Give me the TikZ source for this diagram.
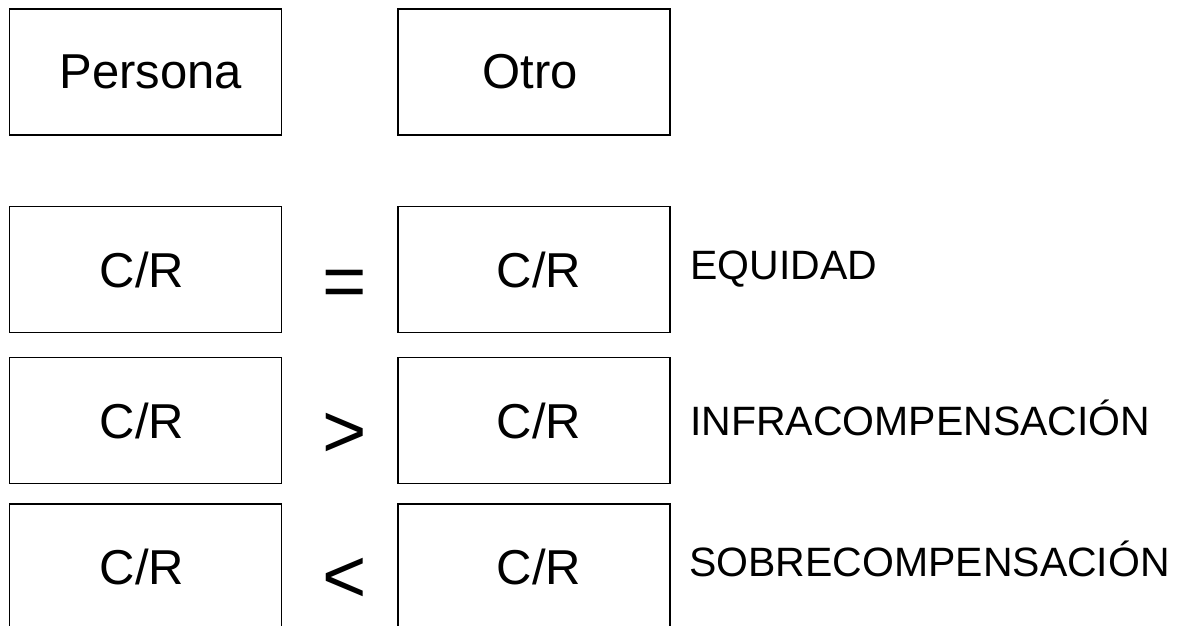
\documentclass[tikz,border=0pt]{standalone}
\usepackage{fontspec}
\setmainfont{Liberation Sans}
\begin{document}
\begin{tikzpicture}[x=1pt,y=-1pt,
  cell/.style={draw=black, line width=1.3pt, minimum width=272pt, minimum height=126pt,
    inner sep=0pt, font=\fontsize{49}{49}\selectfont},
  rel/.style={inner sep=0pt, font=\fontsize{76}{76}\selectfont},
  verdict/.style={anchor=base west, inner sep=0pt, font=\fontsize{41}{41}\selectfont}]
\useasboundingbox (0,0) rectangle (1203,626);
% column headers
\node[cell] (persona) at (145.5,72) {\kern11pt Persona};
\node[cell] (otro) at (534,72) {Otro\kern8pt};
% comparison rows
\node[cell] (p1) at (145.5,269.5) {C/R\kern7pt};
\node[cell] (o1) at (534,269.5) {\kern10pt C/R};
\node[cell] (p2) at (145.5,420.5) {C/R\kern7pt};
\node[cell] (o2) at (534,420.5) {\kern10pt C/R};
\node[cell] (p3) at (145.5,567) {C/R\kern7pt};
\node[cell] (o3) at (534,567) {\kern10pt C/R};
% relation signs
\node[rel] (eq) at (345,289) {=};
\node[rel] (gt) at (345,435) {>};
\node[rel] (lt) at (345,580) {<};
% outcome labels
\node[verdict] (l1) at (690,279) {EQUIDAD};
\node[verdict] (l2) at (690,435) {INFRACOMPENSACIÓN};
\node[verdict] (l3) at (689,576) {SOBRECOMPENSACIÓN};
\end{tikzpicture}
\end{document}
